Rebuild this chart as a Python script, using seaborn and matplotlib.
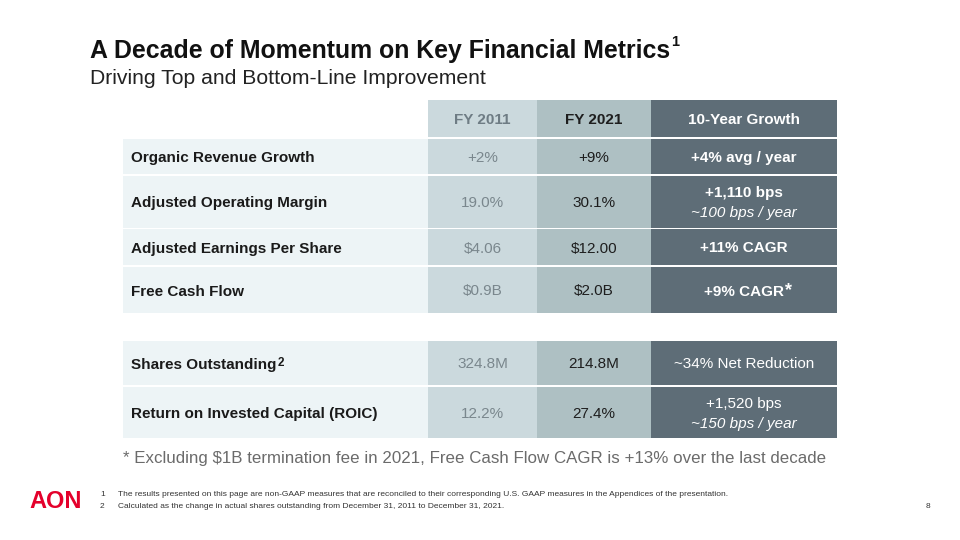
import matplotlib
matplotlib.use("Agg")
import matplotlib.pyplot as plt
import seaborn as sns

# Table content
metrics = ["Organic Revenue Growth", "Adjusted Operating Margin",
           "Adjusted Earnings Per Share", "Free Cash Flow",
           "Shares Outstanding", "Return on Invested Capital (ROIC)"]
fy2011 = ["+2%", "19.0%", "$4.06", "$0.9B", "324.8M", "12.2%"]
fy2021 = ["+9%", "30.1%", "$12.00", "$2.0B", "214.8M", "27.4%"]
growth = ["+4% avg / year", "+1,110 bps", "+11% CAGR", "+9% CAGR",
          "~34% Net Reduction", "+1,520 bps"]
growth_sub = ["", "~100 bps / year", "", "", "", "~150 bps / year"]
growth_bold = [True, True, True, True, False, False]
headers = ["FY 2011", "FY 2021", "10-Year Growth"]

# Layout (pixels, y downward)
row_top = [138.5, 176, 229, 267, 341, 386.5]
row_bot = [174, 227.5, 265, 313, 385, 438]
head_top, head_bot = 100, 137
col_edges = [123, 428, 537, 651, 837]
col_colors = ["#EDF4F6", "#CBD9DD", "#AEC0C3", "#5E6D77"]
dy = 1.5  # nudge text to visual centre

sns.set_theme(style="white")
plt.rcParams["font.family"] = ["Liberation Sans", "DejaVu Sans"]
plt.rcParams["text.parse_math"] = False

fig = plt.figure(figsize=(9.6, 5.4), dpi=100)
ax = fig.add_axes([0, 0, 1, 1])
ax.set_xlim(0, 960)
ax.set_ylim(540, 0)
ax.axis("off")

centers = [(t + b) / 2 for t, b in zip(row_top, row_bot)]
heights = [b - t for t, b in zip(row_top, row_bot)]

for i, color in enumerate(col_colors):
    left, right = col_edges[i], col_edges[i + 1]
    ax.barh(centers, right - left, left=left, height=heights, color=color,
            edgecolor="none")
    if i > 0:
        ax.barh((head_top + head_bot) / 2, right - left, left=left,
                height=head_bot - head_top, color=color, edgecolor="none")

fs = 11
mid = [(col_edges[i] + col_edges[i + 1]) / 2 for i in range(1, 4)]
head_y = (head_top + head_bot) / 2 + dy
ax.text(mid[0], head_y, headers[0], ha="center", va="center", fontsize=fs,
        fontweight="bold", color="#6E7C84")
ax.text(mid[1], head_y, headers[1], ha="center", va="center", fontsize=fs,
        fontweight="bold", color="#1E1E1E")
ax.text(mid[2], head_y, headers[2], ha="center", va="center", fontsize=fs,
        fontweight="bold", color="white")

fig.canvas.draw()
renderer = fig.canvas.get_renderer()


def add_sup(t, s, size, off, color, weight="bold"):
    bb = t.get_window_extent(renderer)
    xd, yd = ax.transData.inverted().transform((bb.x1, bb.y1))
    ax.text(xd + 1, yd + off, s, ha="left", va="top", fontsize=size,
            fontweight=weight, color=color)


for i, c in enumerate(centers):
    y = c + dy
    lab = ax.text(col_edges[0] + 8, y, metrics[i], ha="left", va="center",
                  fontsize=fs, fontweight="bold", color="#1A1A1A")
    if i == 4:
        add_sup(lab, "2", 8.5, -1, "#1A1A1A")
    ax.text(mid[0], y, fy2011[i], ha="center", va="center", fontsize=fs,
            color="#7A878D")
    ax.text(mid[1], y, fy2021[i], ha="center", va="center", fontsize=fs,
            color="#1E1E1E")
    w = "bold" if growth_bold[i] else "normal"
    if growth_sub[i]:
        ax.text(mid[2], y - 10, growth[i], ha="center", va="center",
                fontsize=fs, fontweight=w, color="white")
        ax.text(mid[2], y + 10, growth_sub[i], ha="center", va="center",
                fontsize=fs, fontstyle="italic", color="white")
    else:
        g = ax.text(mid[2], y, growth[i], ha="center", va="center",
                    fontsize=fs, fontweight=w, color="white")
        if i == 3:
            add_sup(g, "*", 13, -2, "white")

# Titles
t = ax.text(90, 51, "A Decade of Momentum on Key Financial Metrics",
            ha="left", va="center", fontsize=17.9, fontweight="bold",
            color="#111111")
add_sup(t, "1", 10.5, -4, "#111111")
ax.text(90, 78, "Driving Top and Bottom-Line Improvement", ha="left",
        va="center", fontsize=15.2, color="#222222")

ax.text(123, 459, "* Excluding $1B termination fee in 2021, Free Cash Flow "
        "CAGR is +13% over the last decade", ha="left", va="center",
        fontsize=12.2, color="#6B6B6B")

# Footer
ax.text(29, 501, "AON", ha="left", va="center", fontsize=17,
        fontweight="bold", color="#E4002B")
ax.text(100, 495, "1", ha="left", va="center", fontsize=6, color="#333333")
ax.text(100, 506, "2", ha="left", va="center", fontsize=6, color="#333333")
ax.text(118, 495, "The results presented on this page are non-GAAP measures "
        "that are reconciled to their corresponding U.S. GAAP measures in the "
        "Appendices of the presentation.", ha="left", va="center", fontsize=6,
        color="#333333")
ax.text(118, 506, "Calculated as the change in actual shares outstanding from "
        "December 31, 2011 to December 31, 2021.", ha="left", va="center",
        fontsize=6, color="#333333")
ax.text(928, 507, "8", ha="center", va="center", fontsize=6, color="#333333")

fig.savefig("out.png", dpi=100)
